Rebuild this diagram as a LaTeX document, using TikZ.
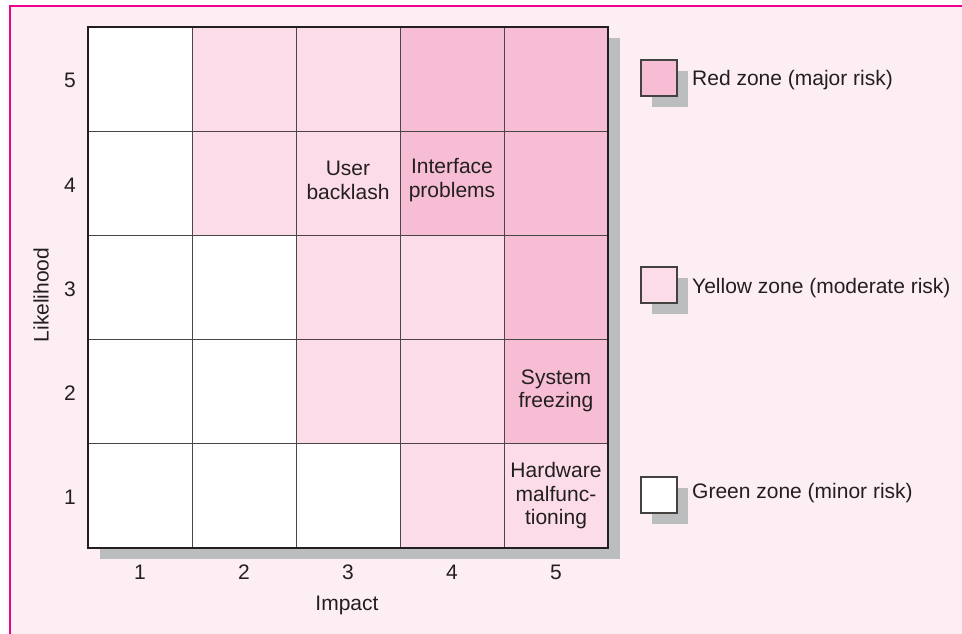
\documentclass[tikz,border=0pt]{standalone}
\usepackage{fontspec}
\setmainfont{Liberation Sans}
\usetikzlibrary{shadows}
\definecolor{bgpink}{HTML}{FDEEF4}
\definecolor{framemag}{HTML}{EC008C}
\definecolor{redz}{HTML}{F6BDD5}
\definecolor{yelz}{HTML}{FCDCE8}
\definecolor{greenz}{HTML}{FFFFFF}
\definecolor{shadowgray}{HTML}{BBBDBF}
\definecolor{ink}{HTML}{231F20}
\definecolor{gridline}{HTML}{4A4546}
\tikzset{
  cell/.style={rectangle, minimum width=104pt, minimum height=104.2pt, inner sep=0pt, outer sep=0pt, draw=gridline, line width=1pt, align=center, text=ink},
  axislabel/.style={text=ink, inner sep=0pt},
  legbox/.style={rectangle, minimum width=36pt, minimum height=36pt, inner sep=0pt, draw=ink!85, line width=1.3pt,
     drop shadow={shadow xshift=11pt, shadow yshift=-11pt, fill=shadowgray, opacity=1}},
  legtext/.style={anchor=west, text=ink, inner sep=0pt}
}
\begin{document}
\begin{tikzpicture}[x=1pt,y=1pt,font=\fontsize{21}{23.5}\selectfont]
\useasboundingbox (0,0) rectangle (962,634);
\fill[white] (0,0) rectangle (962,634);
\fill[bgpink] (10,0) rectangle (962,628);
\draw[framemag, line width=2.2pt] (10,0) -- (10,628) -- (962,628);
% grid shadow
\fill[shadowgray] (100,75) rectangle (620,596);
% cells: rows from likelihood 5 (top) to 1 (bottom)
\foreach \c [count=\i] in {greenz,yelz,yelz,redz,redz}
  \node[cell, fill=\c] (c\i-5) at ({88+(\i-0.5)*104}, {607-0.5*104.2}) {};
\foreach \c [count=\i] in {greenz,yelz,yelz,redz,redz}
  \node[cell, fill=\c] (c\i-4) at ({88+(\i-0.5)*104}, {607-1.5*104.2}) {};
\foreach \c [count=\i] in {greenz,greenz,yelz,yelz,redz}
  \node[cell, fill=\c] (c\i-3) at ({88+(\i-0.5)*104}, {607-2.5*104.2}) {};
\foreach \c [count=\i] in {greenz,greenz,yelz,yelz,redz}
  \node[cell, fill=\c] (c\i-2) at ({88+(\i-0.5)*104}, {607-3.5*104.2}) {};
\foreach \c [count=\i] in {greenz,greenz,greenz,yelz,yelz}
  \node[cell, fill=\c] (c\i-1) at ({88+(\i-0.5)*104}, {607-4.5*104.2}) {};
% cell texts
\node[align=center, text=ink, inner sep=0pt] (t34) at ([yshift=3pt]c3-4.center) {User\\backlash};
\node[align=center, text=ink, inner sep=0pt] (t44) at ([yshift=3pt]c4-4.center) {Interface\\problems};
\node[align=center, text=ink, inner sep=0pt] (t52) at ([yshift=1pt]c5-2.center) {System\\freezing};
\node[align=center, text=ink, inner sep=0pt] (t51) at ([yshift=0pt]c5-1.center) {Hardware\\malfunc-\\tioning};
% outer border
\draw[ink, line width=2.6pt] (88,86) rectangle (608,607);
% axis numbers
\foreach \i in {1,...,5}
  \node[axislabel] (x\i) at ({88+(\i-0.5)*104}, 62) {\i};
\foreach \j in {1,...,5}
  \node[axislabel] (y\j) at (70, {607-(5-\j+0.5)*104.2-1.5}) {\j};
\node[axislabel] (impact) at (347, 29) {Impact};
\node[axislabel, rotate=90] (likelihood) at (41, 339) {Likelihood};
% legend
\node[legbox, fill=redz] (lr) at (659, 556) {};
\node[legbox, fill=yelz] (ly) at (659, 349) {};
\node[legbox, fill=white] (lg) at (659, 139) {};
\node[legtext] (lrt) at (692, 554) {Red zone (major risk)};
\node[legtext] (lyt) at (692, 346) {Yellow zone (moderate risk)};
\node[legtext] (lgt) at (692, 141) {Green zone (minor risk)};
\end{tikzpicture}
\end{document}
